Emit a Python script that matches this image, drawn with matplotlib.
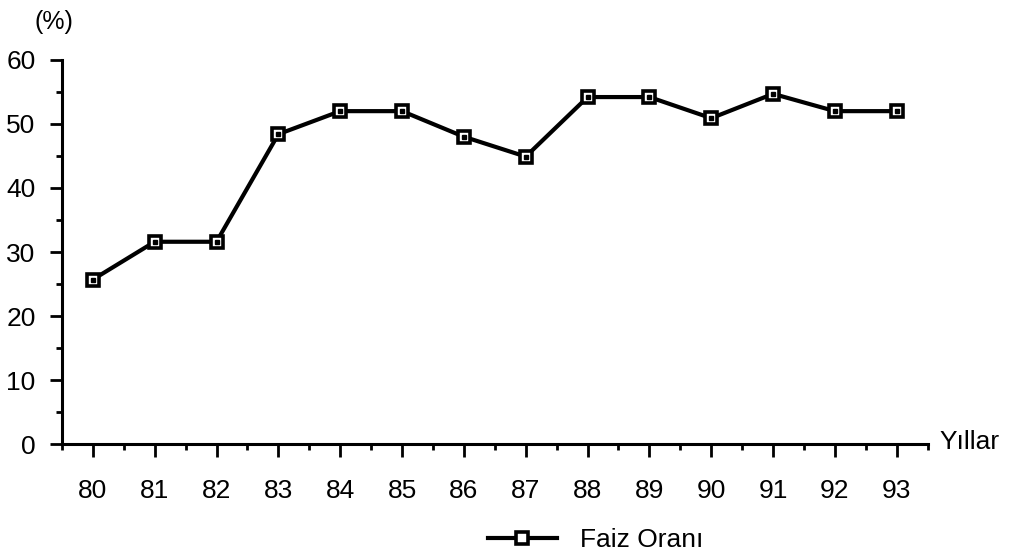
import matplotlib.pyplot as plt
from matplotlib.ticker import MultipleLocator

plt.rcParams['font.family'] = ['Liberation Sans', 'DejaVu Sans']

years = [80, 81, 82, 83, 84, 85, 86, 87, 88, 89, 90, 91, 92, 93]
faiz_orani = [25.7, 31.6, 31.6, 48.4, 52.0, 52.0, 48.0, 44.9, 54.2, 54.2, 50.9, 54.7, 52.0, 52.0]
series_label = "Faiz Oranı"

fig = plt.figure(figsize=(10.15, 5.6), dpi=100)
ax = fig.add_axes([0.061, 0.207, 0.853, 0.686])

line, = ax.plot(years, faiz_orani, color="black", linewidth=3,
                marker="s", markersize=9, markerfacecolor="white",
                markeredgecolor="black", markeredgewidth=2.6,
                label=series_label, clip_on=False, zorder=3)
# small dot inside each square
ax.plot(years, faiz_orani, linestyle="none", marker="s", markersize=2.2,
        color="black", zorder=4, clip_on=False)

ax.set_xlim(79.5, 93.5)
ax.set_ylim(0, 60)

for s in ["top", "right"]:
    ax.spines[s].set_visible(False)
ax.spines["left"].set_linewidth(2.2)
ax.spines["bottom"].set_linewidth(2.2)

ax.set_xticks(years)
ax.set_xticks([y + 0.5 for y in years] + [79.5], minor=True)
ax.yaxis.set_major_locator(MultipleLocator(10))
ax.yaxis.set_minor_locator(MultipleLocator(5))
ax.tick_params(axis="both", which="major", length=9, width=2, labelsize=19,
               colors="black")
ax.tick_params(axis="x", which="major", pad=16)
ax.tick_params(axis="y", which="major", pad=10)
ax.tick_params(axis="both", which="minor", length=4, width=2)

fig.text(0.053, 0.96, "(%)", fontsize=18, ha="center", va="center")
fig.text(0.926, 0.21, "Yıllar", fontsize=19, ha="left", va="center")

fig.legend(handles=[line], labels=[series_label], loc="center",
           bbox_to_anchor=(0.587, 0.035), frameon=False, fontsize=19,
           handlelength=2.6, handletextpad=0.9)

fig.savefig("out.png", dpi=100)
